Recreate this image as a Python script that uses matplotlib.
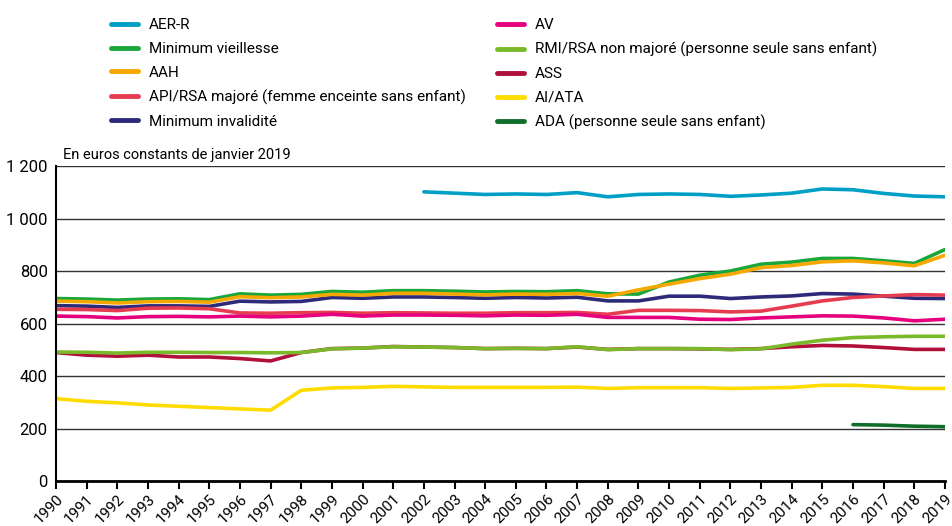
import matplotlib
matplotlib.use('Agg')
import matplotlib.pyplot as plt
from matplotlib import font_manager

names = set(f.name for f in font_manager.fontManager.ttflist)
narrow = 'Liberation Sans Narrow' if 'Liberation Sans Narrow' in names else 'Roboto'
plt.rcParams['font.family'] = [narrow, 'DejaVu Sans']

years = list(range(1990, 2020))

aer_r_years = list(range(2002, 2020))
aer_r = [1103, 1098, 1093, 1095, 1093, 1100, 1084, 1093, 1095, 1093, 1086, 1091,
         1098, 1114, 1111, 1097, 1087, 1084]
min_vieillesse = [696, 694, 690, 694, 695, 692, 714, 709, 712, 723, 720, 726, 726, 724, 721,
                  723, 722, 726, 714, 713, 759, 785, 801, 827, 835, 849, 849, 840, 830, 883]
aah = [686, 684, 679, 684, 685, 682, 703, 699, 702, 712, 709, 716, 716, 713, 710,
       713, 712, 715, 705, 729, 751, 772, 789, 814, 822, 836, 840, 832, 821, 861]
api_rsa = [655, 654, 650, 659, 660, 657, 641, 640, 642, 643, 640, 642, 641, 640, 640,
           642, 642, 643, 636, 651, 651, 650, 645, 648, 667, 687, 700, 706, 711, 709]
min_invalidite = [669, 667, 662, 668, 668, 666, 686, 683, 685, 700, 697, 702, 702, 700, 697,
                  700, 698, 701, 687, 687, 705, 705, 696, 702, 706, 715, 713, 705, 697, 696]
av = [629, 627, 622, 627, 628, 626, 629, 626, 629, 636, 629, 633, 633, 632, 630,
      633, 632, 636, 624, 624, 624, 617, 616, 622, 626, 630, 629, 622, 611, 617]
rmi_rsa = [492, 491, 488, 491, 491, 490, 490, 489, 490, 504, 507, 512, 511, 509, 505,
           506, 505, 512, 501, 505, 505, 505, 501, 504, 522, 537, 547, 550, 552, 552]
ass = [490, 480, 476, 480, 473, 473, 467, 458, 490, 505, 507, 513, 511, 509, 505,
       506, 505, 511, 502, 505, 505, 504, 502, 505, 512, 517, 515, 509, 502, 502]
ai_ata = [314, 304, 298, 290, 285, 280, 275, 270, 346, 355, 357, 361, 359, 357, 357,
          357, 357, 358, 353, 356, 356, 356, 353, 355, 357, 365, 365, 360, 353, 353]
ada_years = [2016, 2017, 2018, 2019]
ada = [215, 213, 209, 207]

fig = plt.figure(figsize=(9.53, 5.26), dpi=100)
ax = fig.add_axes([0.0588, 0.0856, 0.9328, 0.598])

lw = 2.6
h_aer, = ax.plot(aer_r_years, aer_r, color='#00a0c6', lw=lw, solid_capstyle='round')
h_ass, = ax.plot(years, ass, color='#b0103a', lw=lw, solid_capstyle='round')
h_rmi, = ax.plot(years, rmi_rsa, color='#7ab929', lw=lw, solid_capstyle='round')
h_ai, = ax.plot(years, ai_ata, color='#ffdc00', lw=lw, solid_capstyle='round')
h_ada, = ax.plot(ada_years, ada, color='#0f6e2a', lw=lw, solid_capstyle='round')
h_inv, = ax.plot(years, min_invalidite, color='#2e2a7a', lw=lw, solid_capstyle='round')
h_api, = ax.plot(years, api_rsa, color='#e63c50', lw=lw, solid_capstyle='round')
h_av, = ax.plot(years, av, color='#e6007e', lw=lw, solid_capstyle='round')
h_mv, = ax.plot(years, min_vieillesse, color='#1aa63a', lw=lw, solid_capstyle='round')
h_aah, = ax.plot(years, aah, color='#f7a800', lw=lw, solid_capstyle='round')

ax.set_xlim(1990, 2019)
ax.set_ylim(0, 1200)
ax.set_yticks(range(0, 1201, 200))
ax.set_yticklabels(['0', '200', '400', '600', '800', '1 000', '1 200'])
ax.set_xticks(years)
ax.set_xticklabels([str(y) for y in years], rotation=45, ha='right',
                   rotation_mode='anchor')
ax.tick_params(axis='y', length=0, labelsize=12, pad=6)
ax.tick_params(axis='x', length=6, width=1.5, labelsize=11, pad=2, direction='out')
ax.grid(axis='y', color='#333333', lw=1)
ax.set_axisbelow(True)
for s in ['top', 'right']:
    ax.spines[s].set_visible(False)
ax.spines['left'].set_linewidth(1.5)
ax.spines['bottom'].set_linewidth(2)
ax.spines['left'].set_zorder(5)
ax.spines['bottom'].set_zorder(5)

ax.text(0.008, 1.015, 'En euros constants de janvier 2019', transform=ax.transAxes,
        fontsize=10.5, ha='left', va='bottom')

col1 = [h_aer, h_mv, h_aah, h_api, h_inv]
col1_labels = ['AER-R', 'Minimum vieillesse', 'AAH',
               'API/RSA majoré (femme enceinte sans enfant)', 'Minimum invalidité']
col2 = [h_av, h_rmi, h_ass, h_ai, h_ada]
col2_labels = ['AV', 'RMI/RSA non majoré (personne seule sans enfant)', 'ASS', 'AI/ATA',
               'ADA (personne seule sans enfant)']
leg_kw = dict(loc='upper left', frameon=False, fontsize=11, handlelength=1.8,
              handletextpad=0.7, labelspacing=0.64, borderaxespad=0)
leg1 = fig.legend(col1, col1_labels, bbox_to_anchor=(0.110, 0.977), **leg_kw)
leg2 = fig.legend(col2, col2_labels, bbox_to_anchor=(0.515, 0.977), **leg_kw)
for leg in (leg1, leg2):
    for l in leg.get_lines():
        l.set_linewidth(3.5)

fig.savefig('out.png', dpi=100)
